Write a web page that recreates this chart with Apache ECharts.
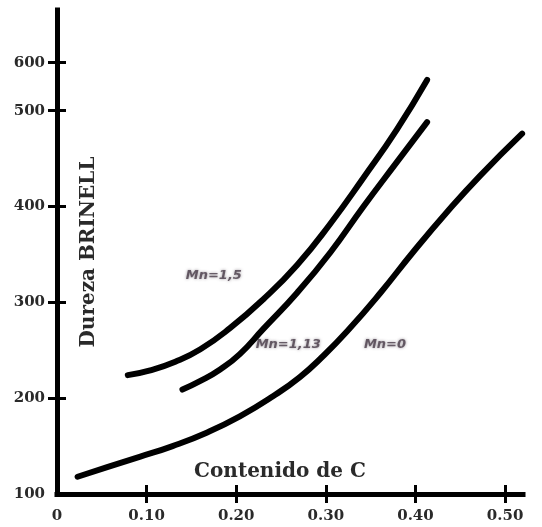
<!DOCTYPE html>
<html><head><meta charset="utf-8">
<script src="https://cdn.jsdelivr.net/npm/echarts@6/dist/echarts.min.js"></script>
<style>html,body{margin:0;padding:0;background:#fff}#c{width:542px;height:527px}</style>
</head><body><div id="c"></div>
<script>
// Axis ticks
const xTickValues = [0, 0.1, 0.2, 0.3, 0.4, 0.5];
const xTickLabels = ['0', '0.10', '0.20', '0.30', '0.40', '0.50'];
// the drawn "600" tick sits much closer to 500 than a linear scale would place it
const yTickValues = [100, 200, 300, 400, 500, 550];
const yTickLabels = ['100', '200', '300', '400', '500', '600'];

// Curves: [carbon content, Brinell hardness]
const mn15 = [[0.079,224],[0.104,229],[0.132,238],[0.160,251],[0.193,273],[0.230,303],[0.268,339],[0.305,382],[0.342,430],[0.379,480],[0.413,532]];
const mn113 = [[0.140,209],[0.160,218],[0.182,230],[0.204,246],[0.230,272],[0.268,310],[0.305,352],[0.342,400],[0.379,446],[0.413,488]];
const mn0 = [[0.023,118],[0.056,128],[0.093,139],[0.129,150],[0.167,164],[0.204,181],[0.241,202],[0.271,222],[0.297,244],[0.324,270],[0.361,310],[0.397,352],[0.435,394],[0.472,432],[0.519,476]];

// Curve labels
const curveLabels = ['Mn=1,5', 'Mn=1,13', 'Mn=0'];
const curveLabelPos = [[0.175,328],[0.258,256],[0.366,256]];

const serif = "'DejaVu Serif', serif";
const chart = echarts.init(document.getElementById('c'));
const tickLine = {color:'#000', width:3};
function yAxisBase(inside){
  return {
    type:'value', min:100, max:605, position:'left',
    axisLine:{show:!inside, lineStyle:{color:'#000', width:5, cap:'square'}},
    splitLine:{show:false},
    axisTick:{show:true, inside:inside, length:9, lineStyle:tickLine, customValues:yTickValues.slice(1)},
    axisLabel:{show:!inside, customValues:yTickValues, margin:12, color:'#2a2a2a', fontFamily:serif, fontWeight:'bold', fontSize:15,
      formatter:function(v){ const i = yTickValues.indexOf(v); return i>=0 ? yTickLabels[i] : ''; }}
  };
}
function xAxisBase(inside){
  return {
    type:'value', min:0, max:0.52, position:'bottom',
    axisLine:{show:!inside, lineStyle:{color:'#000', width:5, cap:'square'}},
    splitLine:{show:false},
    axisTick:{show:true, inside:inside, length:9, lineStyle:tickLine, customValues:xTickValues.slice(1)},
    axisLabel:{show:!inside, customValues:xTickValues, margin:15, color:'#2a2a2a', fontFamily:serif, fontWeight:'bold', fontSize:15,
      formatter:function(v){ let best=0; xTickValues.forEach((t,i)=>{ if(Math.abs(t-v)<Math.abs(xTickValues[best]-v)) best=i; }); return xTickLabels[best]; }}
  };
}
const y0 = yAxisBase(false);
y0.name = 'Dureza BRINELL';
y0.nameLocation = 'middle';
y0.nameGap = -42;
y0.nameTextStyle = {color:'#2a2a2a', fontFamily:serif, fontWeight:'bold', fontSize:20};
const x0 = xAxisBase(false);
x0.name = 'Contenido de C';
x0.nameLocation = 'middle';
x0.nameGap = -32;
x0.nameTextStyle = {color:'#2a2a2a', fontFamily:serif, fontWeight:'bold', fontSize:20, padding:[0,20,0,0]};

const lineStyle = {color:'#000', width:6, cap:'round', join:'round'};
function curve(data){
  return {type:'line', data:data, smooth:0.5, showSymbol:false, symbol:'none', lineStyle:lineStyle, xAxisIndex:0, yAxisIndex:0, z:3, silent:true};
}
chart.setOption({
  animation:false,
  backgroundColor:'#fff',
  grid:{left:57, right:19, top:10, bottom:33, containLabel:false},
  xAxis:[x0, xAxisBase(true)],
  yAxis:[y0, yAxisBase(true)],
  series:[
    curve(mn15), curve(mn113), curve(mn0),
    {type:'scatter', symbolSize:0, xAxisIndex:0, yAxisIndex:0,
      data:curveLabelPos.map((p,i)=>({value:p, name:curveLabels[i]})),
      label:{show:true, position:'inside', formatter:'{b}', color:'#4a3d4a', fontFamily:"'DejaVu Sans', sans-serif", fontWeight:'bold', fontStyle:'italic', fontSize:13,
        textShadowColor:'rgba(74,61,74,0.7)', textShadowBlur:3}}
  ]
});
</script></body></html>
